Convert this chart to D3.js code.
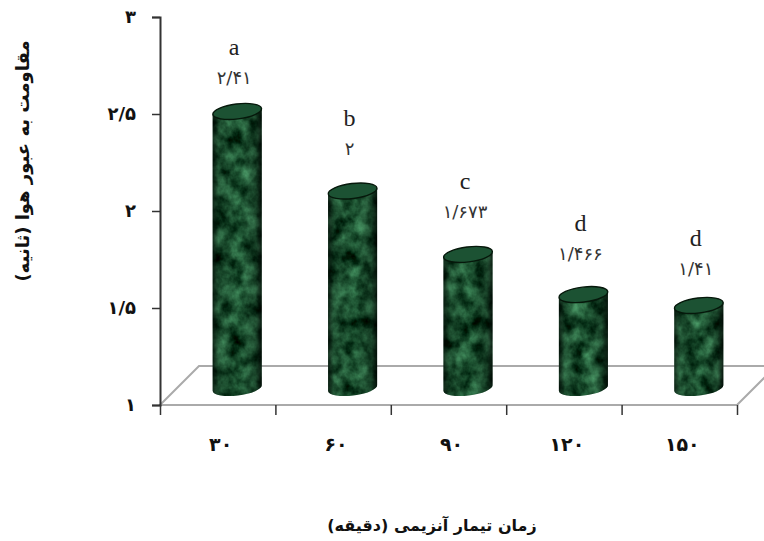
<!DOCTYPE html>
<html>
<head>
<meta charset="utf-8">
<script src="https://cdn.jsdelivr.net/npm/d3@7"></script>
<style>
html, body { margin: 0; padding: 0; background: #fff; }
svg { display: block; }
.fa { font-family: "DejaVu Sans", sans-serif; fill: #111; }
</style>
</head>
<body>
<svg></svg>
<script>
var width = 764;
var height = 541;

// data
var categories = ["۳۰", "۶۰", "۹۰", "۱۲۰", "۱۵۰"];
var values = [2.41, 2, 1.673, 1.466, 1.41];
var valueLabels = ["۲/۴۱", "۲", "۱/۶۷۳", "۱/۴۶۶", "۱/۴۱"];
var groupLetters = ["a", "b", "c", "d", "d"];
var yTicks = [1, 1.5, 2, 2.5, 3];
var yTickLabels = ["۱", "۱/۵", "۲", "۲/۵", "۳"];
var yTitle = "مقاومت به عبور هوا (ثانیه)";
var xTitle = "زمان تیمار آنزیمی (دقیقه)";

var plotLeft = 160, plotRight = 737, plotTop = 17, plotBottom = 405;
var depth = 39; // floor depth of the fake 3d
var barW = 49, ry = 7.5, tilt = -7;
// label gaps above each bar top, they are not even in the original
var labelGap = [27, 36, 36, 35, 30];

var svg = d3.select("svg").attr("width", width).attr("height", height);

var x = d3.scaleBand().domain(categories).range([plotLeft, plotRight]);
var xEdges = d3.scaleLinear().domain([0, categories.length]).range([plotLeft, plotRight]);
var y = d3.scaleLinear().domain([1, 3]).range([plotBottom, plotTop]);

var defs = svg.append("defs");

// green marble texture
var marble = defs.append("filter").attr("id", "marble")
    .attr("x", 0).attr("y", 0).attr("width", 1).attr("height", 1)
    .attr("color-interpolation-filters", "sRGB");
marble.append("feTurbulence")
    .attr("type", "fractalNoise").attr("baseFrequency", "0.07 0.06")
    .attr("numOctaves", 4).attr("seed", 7).attr("result", "noise");
marble.append("feColorMatrix").attr("in", "noise").attr("type", "matrix")
    .attr("values", "0.5 0 0 0 -0.14  0.8 0 0 0 -0.08  0.6 0 0 0 -0.11  0 0 0 0 1")
    .attr("result", "tex");
marble.append("feComposite").attr("in", "tex").attr("in2", "SourceAlpha").attr("operator", "in");

var shade = defs.append("linearGradient").attr("id", "shade");
shade.append("stop").attr("offset", "0%").attr("stop-color", "#000").attr("stop-opacity", 0.65);
shade.append("stop").attr("offset", "12%").attr("stop-color", "#000").attr("stop-opacity", 0.15);
shade.append("stop").attr("offset", "55%").attr("stop-color", "#000").attr("stop-opacity", 0);
shade.append("stop").attr("offset", "88%").attr("stop-color", "#000").attr("stop-opacity", 0.25);
shade.append("stop").attr("offset", "100%").attr("stop-color", "#000").attr("stop-opacity", 0.75);

// floor
var floorPath = d3.path();
floorPath.moveTo(plotLeft, plotBottom);
floorPath.lineTo(plotLeft + depth, plotBottom - depth);
floorPath.lineTo(plotRight + depth, plotBottom - depth);
floorPath.lineTo(plotRight, plotBottom);
floorPath.closePath();
svg.append("path").attr("d", floorPath.toString())
    .attr("fill", "#fff").attr("stroke", "#aaa").attr("stroke-width", 2);

// axes
var yAxis = d3.axisLeft(y).tickValues(yTicks).tickSize(8).tickPadding(16)
    .tickFormat(function (d, i) { return yTickLabels[i]; });
var yG = svg.append("g").attr("transform", "translate(" + plotLeft + ",0)").call(yAxis);
yG.select(".domain").attr("stroke", "#333").attr("stroke-width", 2);
yG.selectAll(".tick line").attr("stroke", "#333").attr("stroke-width", 1.5);
yG.selectAll(".tick text").attr("class", "fa")
    .style("font-family", "'DejaVu Sans'").style("font-size", "18px").style("font-weight", "bold");

var xAxis = d3.axisBottom(xEdges).ticks(categories.length).tickSize(10).tickFormat("");
var xG = svg.append("g").attr("transform", "translate(0," + plotBottom + ")").call(xAxis);
xG.select(".domain").remove();
xG.selectAll(".tick line").attr("stroke", "#333").attr("stroke-width", 1.5);

svg.selectAll(".xlabel").data(categories).enter().append("text")
    .attr("class", "xlabel fa")
    .attr("x", function (d) { return x(d) + x.bandwidth() / 2 + 3; })
    .attr("y", 451)
    .attr("text-anchor", "middle")
    .style("font-size", "19px")
    .style("font-weight", "bold")
    .text(function (d) { return d; });

function barCx(i) { return x(categories[i]) + x.bandwidth() / 2 + depth / 2; }
function barTop(i) { return y(values[i]) - 20; }
var barBottom = y(1) - 17;

// cylinder outline, both ends are tilted the same way
function bodyPath(i) {
    var cx = barCx(i), rx = barW / 2;
    var dy = rx * Math.tan(-tilt * Math.PI / 180);
    var t = barTop(i), b = barBottom;
    return "M" + (cx - rx) + "," + (t + dy) +
        "L" + (cx + rx) + "," + (t - dy) +
        "L" + (cx + rx) + "," + (b - dy) +
        "A" + rx + "," + ry + "," + tilt + ",0,1," + (cx - rx) + "," + (b + dy) + "Z";
}

var bars = svg.selectAll(".bar").data(values).enter().append("g").attr("class", "bar");
bars.append("path").attr("d", function (d, i) { return bodyPath(i); })
    .attr("fill", "#000").attr("filter", "url(#marble)");
bars.append("path").attr("d", function (d, i) { return bodyPath(i); })
    .attr("fill", "url(#shade)");
bars.append("ellipse")
    .attr("rx", barW / 2).attr("ry", ry)
    .attr("transform", function (d, i) {
        return "translate(" + barCx(i) + "," + barTop(i) + ")rotate(" + tilt + ")";
    })
    .attr("fill", "#1c5233").attr("stroke", "#06180b").attr("stroke-width", 1.4);

svg.selectAll(".vlabel").data(valueLabels).enter().append("text")
    .attr("class", "vlabel fa")
    .attr("x", function (d, i) { return barCx(i) - 3; })
    .attr("y", function (d, i) { return barTop(i) - labelGap[i]; })
    .attr("text-anchor", "middle")
    .style("font-size", "18px")
    .style("fill", "#333")
    .text(function (d) { return d; });

svg.selectAll(".letter").data(groupLetters).enter().append("text")
    .attr("class", "letter")
    .attr("x", function (d, i) { return barCx(i) - 3; })
    .attr("y", function (d, i) { return barTop(i) - labelGap[i] - 29; })
    .attr("text-anchor", "middle")
    .style("font-family", "'Liberation Serif', serif")
    .style("font-size", "24px")
    .style("fill", "#222")
    .text(function (d) { return d; });

svg.append("text").attr("class", "fa")
    .attr("transform", "translate(29,161)rotate(-90)")
    .attr("text-anchor", "middle")
    .attr("direction", "rtl")
    .style("font-size", "18px").style("font-weight", "bold")
    .text(yTitle);

svg.append("text").attr("class", "fa")
    .attr("x", 432).attr("y", 531)
    .attr("text-anchor", "middle")
    .attr("direction", "rtl")
    .style("font-size", "16px").style("font-weight", "bold")
    .text(xTitle);
</script>
</body>
</html>
